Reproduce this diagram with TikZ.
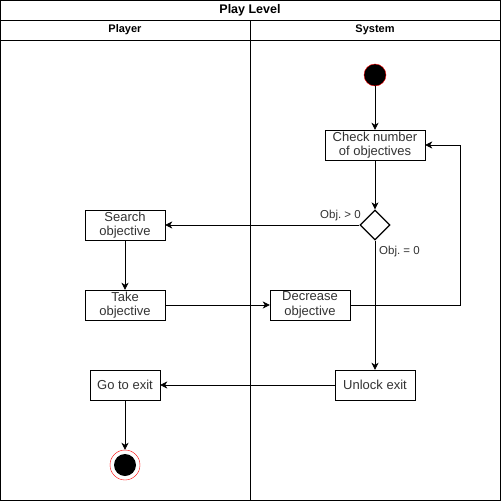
\documentclass[tikz,border=0pt]{standalone}
\usepackage{fontspec}
\setmainfont{Liberation Sans}
\usetikzlibrary{shapes.geometric, arrows.meta}
\frenchspacing

\tikzset{
    act/.style={draw, fill=white, minimum height=30pt, inner sep=1pt, align=center, text=black!80, font=\fontsize{13}{14.5}\selectfont},
    cond/.style={draw, diamond, fill=white, minimum width=30pt, minimum height=30pt, inner sep=0pt, line width=1.2pt},
    lbl/.style={text=black!80, font=\fontsize{11.5}{12}\selectfont, inner sep=0pt},
    flow/.style={-{Stealth[length=7pt,width=7pt,inset=2pt]}, thick},
    hdr/.style={font=\bfseries\fontsize{11}{12}\selectfont},
}

\begin{document}
\begin{tikzpicture}[x=1pt, y=-1pt]
    \useasboundingbox (0,0) rectangle (501,501);
    \draw (0.5,0.5) rectangle (500.5,500.5);
    \draw (0.5,20) -- (500.5,20);
    \draw (0.5,40) -- (500.5,40);
    \draw (250,20) -- (250,500.5);
    \node[hdr, font=\bfseries\fontsize{12.5}{13}\selectfont] (title) at (250,10) {Play Level};
    \node[hdr] (player) at (125,30) {Player};
    \node[hdr] (system) at (375,30) {System};

    \node[circle, fill=black, draw=red, minimum size=22pt, inner sep=0pt] (start) at (375,75) {};
    \node[act, minimum width=100pt] (check) at (375,145) {Check number\\of objectives};
    \node[cond] (choice) at (375,225) {};
    \node[act, minimum width=80pt] (search) at (125,225) {Search\\objective};
    \node[act, minimum width=80pt] (take) at (125,305) {Take\\objective};
    \node[act, minimum width=80pt] (decrease) at (310,305) {Decrease\\objective};
    \node[act, minimum width=80pt] (unlock) at (375,385) {Unlock exit};
    \node[act, minimum width=70pt] (goexit) at (125,385) {Go to exit};
    \node[circle, draw=red, fill=white, minimum size=30pt, inner sep=0pt] (finish) at (125,465) {};
    \node[circle, fill=black, minimum size=22pt, inner sep=0pt] (finishdot) at (125,465) {};

    \node[lbl, anchor=base east] (more) at (361,218) {Obj. > 0};
    \node[lbl, anchor=base west] (none) at (379,254) {Obj. = 0};

    \draw[flow] (start) -- (check);
    \draw[flow] (check) -- (choice);
    \draw[flow] (choice.west) -- (search.east);
    \draw[flow] (choice.south) -- (unlock.north);
    \draw[flow] (search) -- (take);
    \draw[flow] (take) -- (decrease);
    \draw[flow] (decrease.east) -- (460,305) -- (460,145) -- (check.east);
    \draw[flow] (unlock) -- (goexit);
    \draw[flow] (goexit) -- (finish);
\end{tikzpicture}
\end{document}
